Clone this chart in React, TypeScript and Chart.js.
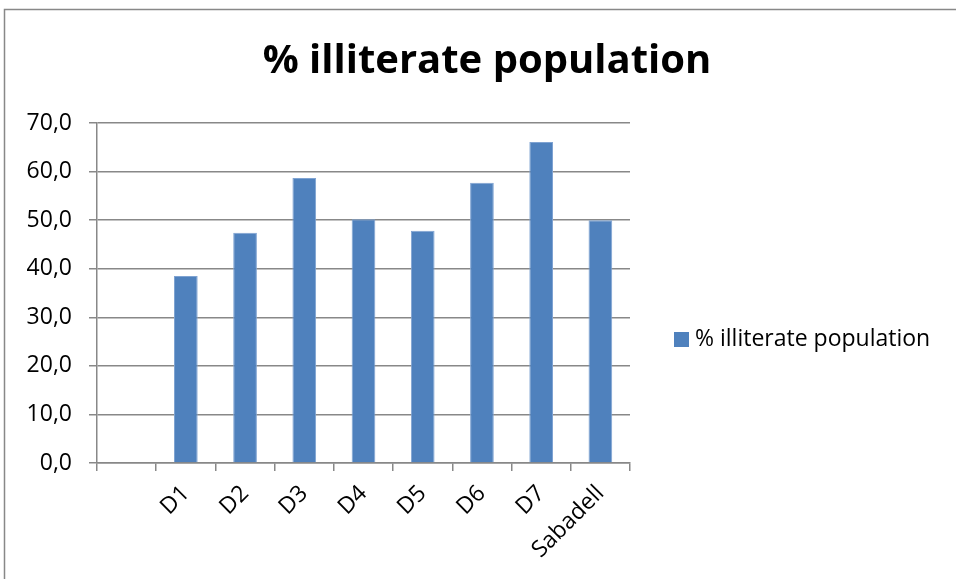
import { useEffect, useRef } from 'react';
import { Chart, registerables } from 'chart.js';

Chart.register(...registerables);

// Districts of Sabadell and the city-wide figure; the first slot is left empty.
const categories = ['', 'D1', 'D2', 'D3', 'D4', 'D5', 'D6', 'D7', 'Sabadell'];
const illiteratePct: (number | null)[] = [null, 38.5, 47.4, 58.7, 50.2, 47.8, 57.7, 66.1, 50.0];
const seriesLabel = '% illiterate population';
const yMin = 0;
const yMax = 70;
const yStep = 10;

const FAMILY = '"Open Sans", Lato, sans-serif';
const TEXT_SIZE = 23;
const GRID = '#888888';
const BAR = '#4F81BD';
const BAR_EDGE = '#7FA3D2';

// White page with a grey frame around the chart.
const framePlugin = {
  id: 'frame',
  beforeDraw(chart: Chart) {
    const { ctx, width, height } = chart;
    ctx.save();
    ctx.fillStyle = '#ffffff';
    ctx.fillRect(0, 0, width, height);
    ctx.strokeStyle = '#888888';
    ctx.lineWidth = 1.5;
    ctx.strokeRect(4.5, 9.5, width + 20, height + 20);
    ctx.restore();
  },
};

// Single-entry legend to the right of the plot area.
const sideLegendPlugin = {
  id: 'sideLegend',
  afterDraw(chart: Chart) {
    const { ctx, chartArea } = chart;
    const ds = chart.data.datasets[0];
    const x = chartArea.right + 44;
    const y = 339.5;
    ctx.save();
    ctx.fillStyle = BAR;
    ctx.fillRect(x, y - 7.5, 15, 15);
    ctx.fillStyle = '#000000';
    ctx.font = `${TEXT_SIZE}px ${FAMILY}`;
    ctx.textAlign = 'left';
    ctx.textBaseline = 'middle';
    ctx.fillText(String(ds.label), x + 21, y);
    ctx.restore();
  },
};

export default function App() {
  const canvasRef = useRef<HTMLCanvasElement | null>(null);

  useEffect(() => {
    document.body.style.margin = '0';
    let chart: Chart | null = null;
    let cancelled = false;

    const build = () => {
      const canvas = canvasRef.current;
      if (!canvas || cancelled) return;
      chart = new Chart(canvas, {
        type: 'bar',
        data: {
          labels: categories,
          datasets: [
            {
              label: seriesLabel,
              data: illiteratePct,
              backgroundColor: BAR,
              borderColor: BAR_EDGE,
              borderWidth: 1,
              barPercentage: 0.4,
              categoryPercentage: 1,
            },
          ],
        },
        options: {
          responsive: false,
          animation: false,
          layout: { padding: { left: 18, right: 0, top: 0, bottom: 0 } },
          plugins: {
            title: {
              display: true,
              text: seriesLabel,
              color: '#000000',
              font: { family: FAMILY, size: 40, weight: 'bold', lineHeight: 1.2 },
              padding: { top: 38, bottom: 37 },
            },
            legend: { display: false },
            tooltip: { enabled: false },
          },
          scales: {
            x: {
              afterFit: (scale: any) => {
                scale.height = 116;
                // room on the right for the legend
                scale.paddingRight = 326;
              },
              grid: {
                display: true,
                drawOnChartArea: false,
                drawTicks: true,
                tickLength: 8,
                color: GRID,
                lineWidth: 1.5,
                offset: true,
              },
              border: { color: GRID, width: 1.5 },
              ticks: {
                color: '#000000',
                font: { family: FAMILY, size: TEXT_SIZE },
                minRotation: 45,
                maxRotation: 45,
                autoSkip: false,
                padding: 9,
              },
            },
            y: {
              min: yMin,
              max: yMax,
              afterFit: (scale: any) => {
                scale.width = 79;
              },
              grid: {
                color: GRID,
                lineWidth: 1.5,
                tickLength: 8,
                drawTicks: true,
              },
              border: { color: GRID, width: 1.5 },
              ticks: {
                stepSize: yStep,
                color: '#000000',
                font: { family: FAMILY, size: TEXT_SIZE },
                padding: 17,
                callback: (v: any) => Number(v).toFixed(1).replace('.', ','),
              },
            },
          },
        },
        plugins: [framePlugin, sideLegendPlugin],
      });
    };

    const fonts = (document as any).fonts;
    if (fonts && fonts.load) {
      Promise.all([
        fonts.load(`${TEXT_SIZE}px "Open Sans"`),
        fonts.load('bold 40px "Open Sans"'),
      ])
        .catch(() => undefined)
        .then(build);
    } else {
      build();
    }

    return () => {
      cancelled = true;
      if (chart) chart.destroy();
    };
  }, []);

  return <canvas ref={canvasRef} width={956} height={579} style={{ display: 'block' }} />;
}
